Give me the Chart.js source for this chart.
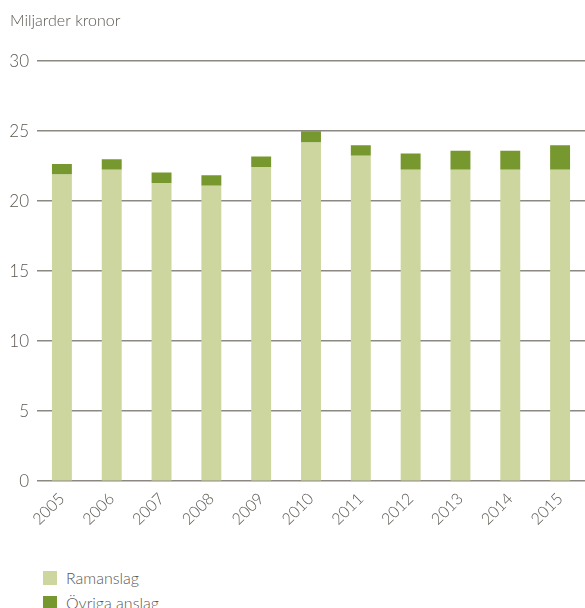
<!DOCTYPE html>
<html>
<head>
<meta charset="utf-8">
<script src="https://cdn.jsdelivr.net/npm/chart.js@4"></script>
<style>
    body { margin: 0; background: #fff; font-family: Lato, sans-serif; font-weight: 300; }
    #wrap { position: relative; width: 585px; height: 608px; overflow: hidden; }
    #chartBox { position: absolute; left: 0; top: 0; width: 585px; height: 540px; }
    #legend { position: absolute; left: 43px; top: 565px; color: #5b5650; font-size: 16px; }
    .item { display: flex; align-items: center; height: 25px; }
    .swatch { width: 14px; height: 14px; margin-right: 9px; }
</style>
</head>
<body>
<div id="wrap">
    <div id="chartBox"><canvas id="chart"></canvas></div>
    <div id="legend"></div>
</div>
<script>
// data
const years = ['2005', '2006', '2007', '2008', '2009', '2010', '2011', '2012', '2013', '2014', '2015'];
const ramanslag = [21.9, 22.25, 21.3, 21.1, 22.45, 24.2, 23.25, 22.25, 22.25, 22.25, 22.25];
const ovrigaAnslag = [0.75, 0.75, 0.75, 0.75, 0.75, 0.8, 0.75, 1.15, 1.35, 1.35, 1.75];
const yTicks = [0, 5, 10, 15, 20, 25, 30];

const textColor = '#5b5650';
const gridColor = '#8c8882';

const ctx = document.getElementById('chart').getContext('2d');
const chart = new Chart(ctx, {
    type: 'bar',
    data: {
        labels: years,
        datasets: [{
            label: 'Ramanslag',
            data: ramanslag,
            backgroundColor: '#ccd69e'
        }, {
            label: 'Övriga anslag',
            data: ovrigaAnslag,
            backgroundColor: '#76982e'
        }]
    },
    options: {
        responsive: true,
        maintainAspectRatio: false,
        animation: false,
        layout: { padding: { left: 10, right: 0, top: 8, bottom: 11 } },
        datasets: { bar: { barPercentage: 0.4, categoryPercentage: 1 } },
        plugins: {
            legend: { display: false },
            tooltip: { enabled: false },
            title: {
                display: true,
                text: 'Miljarder kronor',
                align: 'start',
                color: textColor,
                font: { family: 'Lato', size: 16, weight: 300 },
                padding: { top: 3, bottom: 31 }
            }
        },
        scales: {
            x: {
                stacked: true,
                grid: { display: false },
                border: { display: false },
                ticks: {
                    color: textColor,
                    font: { family: 'Lato', size: 16, weight: 300 },
                    minRotation: 45,
                    maxRotation: 45,
                    padding: 0
                }
            },
            y: {
                stacked: true,
                min: 0,
                max: 30,
                afterBuildTicks: axis => { axis.ticks = yTicks.map(v => ({ value: v })); },
                afterFit: axis => { axis.width = 27; },
                grid: { color: gridColor, lineWidth: 1.5, drawTicks: false },
                border: { display: false },
                ticks: {
                    color: textColor,
                    font: { family: 'Lato', size: 17, weight: 300 },
                    padding: 8
                }
            }
        }
    }
});

// html legend from datasets
const legend = document.getElementById('legend');
chart.data.datasets.forEach(ds => {
    const item = document.createElement('div');
    item.className = 'item';
    const sw = document.createElement('span');
    sw.className = 'swatch';
    sw.style.background = ds.backgroundColor;
    item.appendChild(sw);
    item.appendChild(document.createTextNode(ds.label));
    legend.appendChild(item);
});
</script>
</body>
</html>
